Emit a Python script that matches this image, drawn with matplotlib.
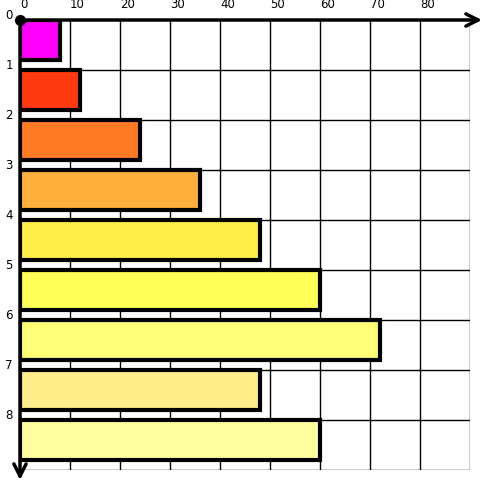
import matplotlib
matplotlib.use("Agg")
import matplotlib.pyplot as plt
import numpy as np

# bar values, top to bottom
values = [8, 12, 24, 36, 48, 60, 72, 48, 60]
colors = ["#ff00ff", "#ff3a10", "#ff7a25", "#ffb03c", "#ffee48",
          "#ffff58", "#ffff78", "#ffee8a", "#ffffa0"]
x_ticks = [0, 10, 20, 30, 40, 50, 60, 70, 80]
y_labels = ["0", "1", "2", "3", "4", "5", "6", "7", "8"]

fig = plt.figure(figsize=(5, 5), dpi=100)
ax = fig.add_axes([0.04, 0.06, 0.90, 0.90])
ax.set_xlim(0, 90)
ax.set_ylim(9, 0)

# grid
for x in range(10, 100, 10):
    ax.axvline(x, color="black", lw=1, zorder=1)
for y in range(1, 10):
    ax.axhline(y, color="black", lw=1, zorder=1)

# bars
pos = np.arange(len(values))
ax.barh(pos, values, height=0.8, align="edge", color=colors,
        edgecolor="black", linewidth=3, zorder=2)

for s in ax.spines.values():
    s.set_visible(False)
ax.set_xticks([])
ax.set_yticks([])

# top and left axes with arrows
ax.annotate("", xy=(92.4, 0), xytext=(0, 0), xycoords="data",
            arrowprops=dict(arrowstyle="->", lw=2.5, color="black",
                            mutation_scale=22, shrinkA=0, shrinkB=0),
            annotation_clip=False, zorder=5)
ax.annotate("", xy=(0, 9.2), xytext=(0, 0), xycoords="data",
            arrowprops=dict(arrowstyle="->", lw=2.5, color="black",
                            mutation_scale=22, shrinkA=0, shrinkB=0),
            annotation_clip=False, zorder=5)
ax.plot([0], [0], "o", color="black", ms=7, clip_on=False, zorder=6)

# tick labels
for t in x_ticks:
    ax.text(t, -0.17, str(t), ha="left", va="bottom", fontsize=8.5,
            color="black", clip_on=False)
for i, lab in enumerate(y_labels):
    ax.text(-2.2, i + 0.04, lab, ha="center", va="bottom", fontsize=8.5,
            color="black", clip_on=False)

fig.savefig("out.png", dpi=100)
